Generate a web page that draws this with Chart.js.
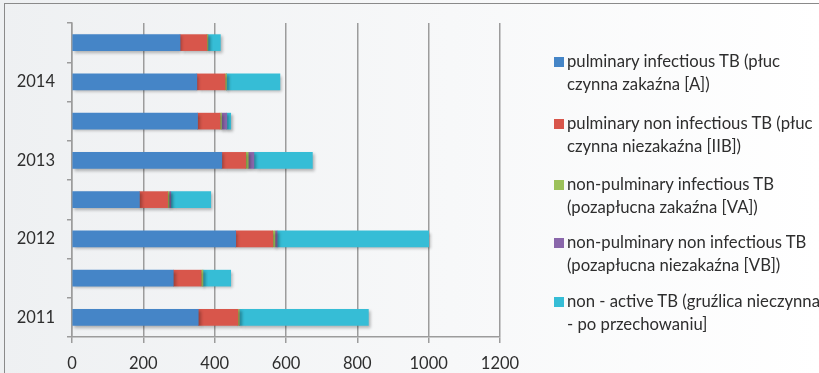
<!DOCTYPE html>
<html>
<head>
<meta charset="utf-8">
<script src="https://cdn.jsdelivr.net/npm/chart.js@4.4.1/dist/chart.umd.min.js"></script>
<style>
  html, body { margin:0; padding:0; width:819px; height:373px; overflow:hidden; }
  body { background: linear-gradient(90deg, #eef0f2 0%, #f7f8f9 55%, #ffffff 100%); position:relative; font-family: Lato, "Open Sans", sans-serif; }
  #frame { position:absolute; left:4px; top:3px; width:900px; height:500px; border-left:1.5px solid #8a8a8a; border-top:1.5px solid #8a8a8a; }
  #wrap { position:absolute; left:0; top:0; width:819px; height:373px; }
  #legend { position:absolute; left:0; top:0; width:819px; height:373px; pointer-events:none; }
  .item { position:absolute; left:554px; color:#2e2e2e; font-size:16.7px; line-height:23px; white-space:nowrap; }
  .sq { position:absolute; left:0; top:7px; width:10px; height:10px; }
  .txt { position:absolute; left:13px; top:0; }
</style>
</head>
<body>
<div id="frame"></div>
<div id="wrap"><canvas id="c" width="819" height="373"></canvas></div>
<div id="legend"></div>
<script>
// Categories listed top to bottom
const categories = ['', '2014', '', '2013', '', '2012', '', '2011'];
const pulmInfectious    = [303, 350, 352, 420, 189, 459, 284, 354];
const pulmNonInfectious = [75, 79, 63, 67, 79, 104, 78, 111];
const nonPulmInfectious = [3, 4, 4, 7, 4, 6, 5, 4];
const nonPulmNonInfect  = [0, 0, 15, 16, 5, 6, 0, 0];
const nonActive         = [35, 150, 11, 164, 112, 425, 78, 362];
const xTicks = [0, 200, 400, 600, 800, 1000, 1200];

const seriesNames = [
  ['pulminary infectious TB (płuc', 'czynna zakaźna [A])'],
  ['pulminary non infectious TB (płuc', 'czynna niezakaźna [IIB])'],
  ['non-pulminary infectious TB', '(pozapłucna zakaźna [VA])'],
  ['non-pulminary non infectious TB', '(pozapłucna niezakaźna [VB])'],
  ['non - active TB (gruźlica nieczynna', '- po przechowaniu]']
];
const colors = ['#4585c7', '#d8564b', '#9cc15a', '#8a67ab', '#36bdd6'];
const legendTops = [50, 112, 173, 231, 290];

const seriesData = [pulmInfectious, pulmNonInfectious, nonPulmInfectious, nonPulmNonInfect, nonActive];

const shadowPlugin = {
  id: 'barShadow',
  beforeDatasetsDraw(chart) {
    const ctx = chart.ctx;
    ctx.save();
    ctx.shadowColor = 'rgba(0,0,0,0.28)';
    ctx.shadowBlur = 3;
    ctx.shadowOffsetX = 2;
    ctx.shadowOffsetY = 2;
  },
  afterDatasetsDraw(chart) { chart.ctx.restore(); }
};

new Chart(document.getElementById('c'), {
  type: 'bar',
  data: {
    labels: categories,
    datasets: seriesData.map((d, i) => ({
      label: seriesNames[i].join(' '),
      data: d,
      backgroundColor: colors[i],
      borderWidth: 0,
      barThickness: 16
    }))
  },
  options: {
    indexAxis: 'y',
    responsive: false,
    animation: false,
    layout: { padding: { left: 0, top: 23, right: 319, bottom: 0 } },
    plugins: { legend: { display: false }, tooltip: { enabled: false } },
    scales: {
      x: {
        stacked: true,
        min: 0, max: 1200,
        afterBuildTicks(scale) { scale.ticks = xTicks.map(v => ({ value: v })); },
        afterFit(scale) { scale.height = 36; },
        grid: { color: '#9c9c9c', lineWidth: 1.5, tickLength: 6, drawTicks: true },
        border: { display: true, color: '#9c9c9c', width: 1.5 },
        ticks: { color: '#2e2e2e', font: { family: 'Lato', size: 16.5 }, padding: 11, maxRotation: 0,
                 callback: (v) => String(v) }
      },
      y: {
        stacked: true,
        afterFit(scale) { scale.width = 72; },
        grid: { drawOnChartArea: false, color: '#9c9c9c', lineWidth: 1.5, tickLength: 5, offset: true },
        border: { display: true, color: '#9c9c9c', width: 1.5 },
        ticks: { color: '#2e2e2e', font: { family: 'Lato', size: 16.5 }, padding: 12, autoSkip: false }
      }
    }
  },
  plugins: [shadowPlugin]
});

const lg = document.getElementById('legend');
seriesNames.forEach((lines, i) => {
  const it = document.createElement('div');
  it.className = 'item';
  it.style.top = legendTops[i] + 'px';
  const sq = document.createElement('div');
  sq.className = 'sq';
  sq.style.background = colors[i];
  const tx = document.createElement('div');
  tx.className = 'txt';
  tx.innerHTML = lines.join('<br>');
  it.appendChild(sq); it.appendChild(tx);
  lg.appendChild(it);
});
</script>
</body>
</html>
